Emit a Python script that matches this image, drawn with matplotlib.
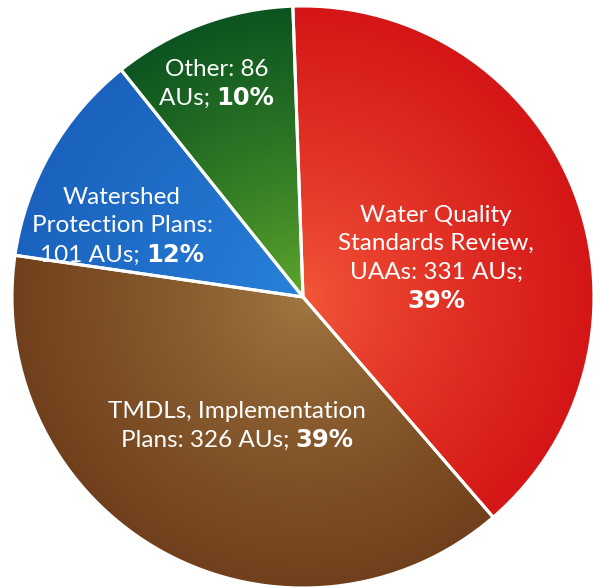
""" Assessment unit pie chart."""

import numpy as np
import matplotlib
matplotlib.use("Agg")
import matplotlib.pyplot as plt
from matplotlib.colors import to_rgb

categories = ["Water Quality Standards Review, UAAs", "TMDLs, Implementation Plans",
              "Watershed Protection Plans", "Other"]
au_counts = [331, 326, 101, 86]
percents = ["39%", "39%", "12%", "10%"]
# label lines: list of (regular text, bold text) per line
label_lines = [
    [("Water Quality", ""), ("Standards Review,", ""), ("UAAs: 331 AUs;", ""), ("", "39%")],
    [("TMDLs, Implementation", ""), ("Plans: 326 AUs; ", "39%")],
    [("Watershed", ""), ("Protection Plans:", ""), ("101 AUs; ", "12%")],
    [("Other: 86", ""), ("AUs; ", "10%")],
]
inner_colors = ["#f4583a", "#a27842", "#2a84dc", "#62aa2c"]
outer_colors = ["#d41616", "#70401c", "#1a62be", "#0c5420"]

W, H = 593, 588
CX, CY, R = 303, H - 297, 291
FONT = "Lato"
BOLD_FONT = "DejaVu Sans"
SIZE = 17.5
BOLD_SIZE = 17.5

fig = plt.figure(figsize=(W / 100, H / 100), dpi=100)
ax = fig.add_axes([0, 0, 1, 1])

wedges, _ = ax.pie(au_counts, startangle=92, counterclock=False, center=(CX, CY), radius=R,
                   frame=True, wedgeprops=dict(edgecolor="white", linewidth=2.2))

# radial shading inside each wedge
n = 600
gx, gy = np.meshgrid(np.linspace(CX - R, CX + R, n), np.linspace(CY - R, CY + R, n))
t = np.clip(np.hypot(gx - CX, gy - CY) / R, 0, 1) ** 0.8
for w, c_in, c_out in zip(wedges, inner_colors, outer_colors):
    a, b = np.array(to_rgb(c_in)), np.array(to_rgb(c_out))
    img = a * (1 - t[..., None]) + b * t[..., None]
    im = ax.imshow(img, extent=[CX - R, CX + R, CY - R, CY + R], origin="lower",
                   zorder=1, interpolation="bilinear")
    im.set_clip_path(w)
    w.set_facecolor("none")
    w.set_zorder(2)
ax.set_xlim(0, W)
ax.set_ylim(0, H)
ax.axis("off")

# label positions (centre x, first line y, line step) in pixels from top-left
label_pos = [(436, 215, 28.5), (237, 412, 28), (122, 197, 29), (217, 70, 28)]

renderer = fig.canvas.get_renderer()


def text_width(s, family, size, weight):
    if not s:
        return 0.0
    t_ = ax.text(0, 0, s.replace(" ", "\u00a0"), fontsize=size, family=family, fontweight=weight)
    wd = t_.get_window_extent(renderer).width
    t_.remove()
    return wd


for lines, (x0, y0, step) in zip(label_lines, label_pos):
    for i, (reg, bold) in enumerate(lines):
        y = H - (y0 + i * step)
        w1 = text_width(reg, FONT, SIZE, "normal")
        w2 = text_width(bold, BOLD_FONT, BOLD_SIZE, "bold")
        left = x0 - (w1 + w2) / 2
        if reg:
            ax.text(left, y, reg.replace(" ", "\u00a0"), fontsize=SIZE, family=FONT,
                    color="white", va="center", ha="left", zorder=3)
        if bold:
            ax.text(left + w1, y, bold, fontsize=BOLD_SIZE, family=BOLD_FONT, fontweight="bold",
                    color="white", va="center", ha="left", zorder=3)

fig.savefig("out.png", dpi=100, facecolor="white")
